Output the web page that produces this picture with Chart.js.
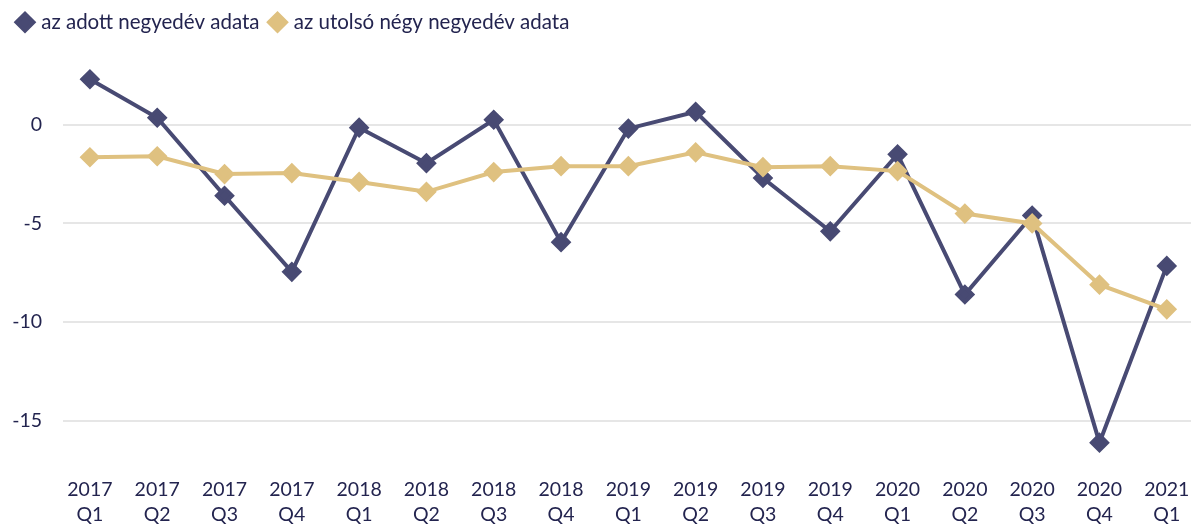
<!DOCTYPE html>
<html>
<head>
<meta charset="utf-8">
<script src="https://cdn.jsdelivr.net/npm/chart.js@4"></script>
<style>
  html, body { margin: 0; padding: 0; background: #fff; }
  #wrap { width: 1191px; height: 528px; }
</style>
</head>
<body>
<div id="wrap"><canvas id="chart"></canvas></div>
<script>
const quarters = ['2017 Q1', '2017 Q2', '2017 Q3', '2017 Q4', '2018 Q1', '2018 Q2', '2018 Q3', '2018 Q4',
    '2019 Q1', '2019 Q2', '2019 Q3', '2019 Q4', '2020 Q1', '2020 Q2', '2020 Q3', '2020 Q4', '2021 Q1'];
const quarterData = [2.3, 0.35, -3.6, -7.45, -0.15, -1.95, 0.25, -5.95, -0.2, 0.65, -2.7, -5.4, -1.5, -8.6, -4.6, -16.1, -7.15];
const fourQuarterData = [-1.65, -1.6, -2.5, -2.45, -2.9, -3.4, -2.4, -2.1, -2.1, -1.4, -2.15, -2.1, -2.35, -4.5, -5.0, -8.1, -9.35];
const seriesNames = ['az adott negyedév adata', 'az utolsó négy negyedév adata'];

const textColor = '#23244f';
const toPoints = arr => arr.map((v, i) => ({ x: i, y: v }));

new Chart(document.getElementById('chart'), {
    type: 'line',
    data: {
        datasets: [
            { label: seriesNames[0], data: toPoints(quarterData), order: 1,
              borderColor: '#484a73', backgroundColor: '#484a73', borderWidth: 4,
              pointStyle: 'rectRot', pointRadius: 7.5, pointHoverRadius: 7.5, tension: 0 },
            { label: seriesNames[1], data: toPoints(fourQuarterData), order: 0,
              borderColor: '#dfc180', backgroundColor: '#dfc180', borderWidth: 4,
              pointStyle: 'rectRot', pointRadius: 7.5, pointHoverRadius: 7.5, tension: 0 }
        ]
    },
    options: {
        responsive: true,
        maintainAspectRatio: false,
        animation: false,
        layout: { autoPadding: false, padding: { left: 7, right: 0, top: 0, bottom: 0 } },
        plugins: {
            legend: {
                position: 'top',
                align: 'start',
                labels: {
                    sort: (a, b) => a.datasetIndex - b.datasetIndex,
                    usePointStyle: true,
                    boxHeight: 12,
                    boxWidth: 12,
                    padding: 12,
                    color: textColor,
                    font: { family: 'Lato', size: 20.5, lineHeight: 1.0 }
                }
            },
            tooltip: { enabled: false }
        },
        scales: {
            x: {
                type: 'linear',
                min: -0.4,
                max: 16.36,
                afterFit: s => { s.height = 63; s.paddingLeft = 0; s.paddingRight = 0; },
                grid: { display: false, drawTicks: false },
                border: { display: false },
                ticks: {
                    stepSize: 1,
                    autoSkip: false,
                    maxRotation: 0,
                    includeBounds: false,
                    padding: 12,
                    color: textColor,
                    font: { family: 'Lato', size: 19.5, lineHeight: 1.3 },
                    callback: v => quarters[v] ? quarters[v].split(' ') : ''
                }
            },
            y: {
                min: -17.23,
                max: 4.16,
                afterFit: s => { s.width = 56; },
                grid: { color: '#e6e6e6', lineWidth: 2, drawTicks: false },
                border: { display: false },
                ticks: {
                    stepSize: 5,
                    includeBounds: false,
                    padding: 21,
                    color: textColor,
                    font: { family: 'Lato', size: 19.5 }
                }
            }
        }
    }
});
</script>
</body>
</html>
